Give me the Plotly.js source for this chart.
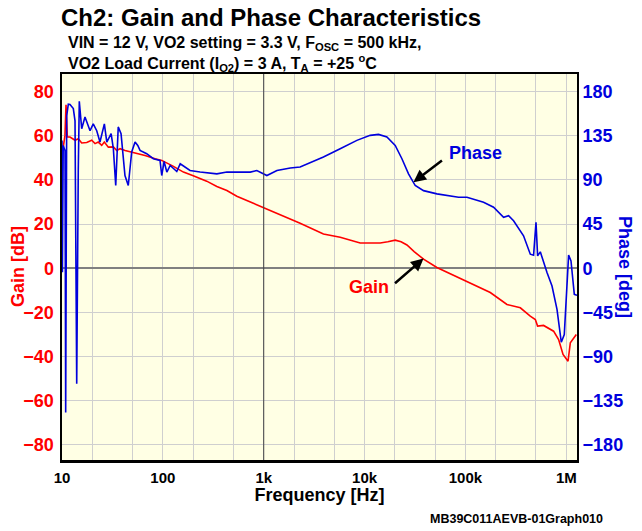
<!DOCTYPE html>
<html>
<head>
<meta charset="utf-8">
<script src="https://cdn.plot.ly/plotly-3.0.1.min.js"></script>
<style>html,body{margin:0;padding:0;background:#fff;}#chart{width:642px;height:531px;}</style>
</head>
<body>
<div id="chart"></div>
<script>
// Gain trace (red)
const gainFreq = [10, 10.7, 10.96, 11.29, 12.0, 13.46, 14.51, 15.68, 17.58, 19.71, 21.26, 22.9, 24.77, 26.28, 28.8, 32.3, 34.9, 37.6, 42.2, 49.1, 57.1, 66.6, 83.7, 97.5, 126, 160, 200, 272, 343, 431, 541, 700, 1000, 1567, 2295, 3908, 5730, 9040, 14280, 17000, 20120, 23000, 26300, 31000, 38400, 52100, 85400, 103500, 176300, 258000, 350000, 439000, 493000, 519000, 595000, 748000, 839000, 928000, 1040000, 1096000, 1257000];
const gainDb = [51, 60, 74, 59.4, 59.4, 57.9, 58.6, 56.7, 56.9, 57.9, 56.4, 57.1, 55.6, 57.1, 54.8, 54.9, 53.3, 54.1, 53.3, 52.6, 51.8, 51.0, 49.5, 48.8, 46.2, 43.5, 41.9, 39.4, 37.0, 35.2, 32.6, 30.4, 27.3, 23.8, 20.3, 15.5, 14.0, 11.4, 11.4, 12.0, 12.7, 12.0, 10.5, 7.5, 4.1, 0.3, -4.2, -5.8, -11, -16.4, -17.9, -21.7, -23.2, -26.2, -25.9, -28.5, -32.3, -39, -42.1, -33.8, -30];

// Phase trace (blue)
const phaseFreq = [10.0, 10.09, 10.28, 10.71, 10.88, 11.13, 11.55, 12.0, 12.95, 13.46, 13.99, 14.19, 14.5, 14.84, 15.68, 16.9, 18.2, 18.97, 20.4, 22.1, 23.8, 26.3, 27.8, 30.7, 32.3, 34.1, 36.1, 38.5, 42.1, 45.4, 49.1, 53.0, 56.4, 59.4, 69.1, 80.5, 93.7, 97.5, 102.9, 109.5, 118.2, 137.4, 148.6, 172.9, 186, 234, 315, 343, 431, 541, 735, 855, 1075, 1352, 1834, 2295, 3908, 5728, 8386, 11367, 13740, 16640, 20120, 23450, 27260, 31770, 38400, 52150, 85410, 103500, 151200, 190000, 238800, 267700, 300000, 376700, 439500, 473900, 500600, 519300, 552300, 643500, 721500, 808500, 891900, 955000, 1054000, 1113000, 1200000, 1277000];
const phaseDeg = [130, -4, 125, 120, -147, 155, 167, 166.7, 162.6, 150, -117.6, -20, 100, 170, 142, 154, 145.5, 140, 147, 140, 128.5, 147, 128.5, 137, 121.7, 84.2, 143.9, 137, 94.4, 84.2, 118.3, 128.5, 125, 120, 116.6, 111.5, 109.7, 94.4, 108.7, 97.9, 104.6, 98.5, 106.4, 101.2, 99.5, 97.9, 96.8, 96.1, 97.9, 97.9, 97.9, 99.5, 94.4, 99.5, 102, 103, 113.2, 121.7, 130.2, 135.3, 136.3, 133.7, 125, 111.5, 96.1, 84.2, 79, 75.7, 72.3, 72.3, 67.2, 62.1, 51.8, 53.5, 48.4, 33, 14.3, 13.3, 46.7, 12.6, 16.7, -4.4, -18.1, -41.9, -75.4, -67.5, 13.3, 7.5, -26.6, -27.6];

// Axis ticks
const freqTickVals = [10, 20, 50, 100, 200, 500, 1000, 2000, 5000, 10000, 20000, 50000, 100000, 200000, 500000, 1000000];
const freqTickText = ['10', '', '', '100', '', '', '1k', '', '', '10k', '', '', '100k', '', '', '1M'];
const gainTickVals = [-80, -60, -40, -20, 0, 20, 40, 60, 80];
const phaseTickVals = [-180, -135, -90, -45, 0, 45, 90, 135, 180];

const FONT = 'Arial, "Liberation Sans", Helvetica, sans-serif';
const RED = '#ff0000';
const BLUE = '#0000dd';
const gainRange = [-86.8, 87.9];
const phaseRange = [gainRange[0] * 2.25, gainRange[1] * 2.25];
const xRange = [1, 6.106];

const traces = [
  {x: gainFreq, y: gainDb, type: 'scatter', mode: 'lines', name: 'Gain',
   line: {color: RED, width: 1.6}, yaxis: 'y'},
  {x: phaseFreq, y: phaseDeg, type: 'scatter', mode: 'lines', name: 'Phase',
   line: {color: BLUE, width: 1.6}, yaxis: 'y2'}
];

const PH = 531 - 74 - 71;
const PW = 642 - 62 - 65;

const layout = {
  width: 642, height: 531,
  margin: {l: 62, r: 65, t: 74, b: 71},
  paper_bgcolor: '#ffffff',
  plot_bgcolor: '#ffffe4',
  showlegend: false,
  font: {family: FONT},
  title: {
    text: 'Ch2: Gain and Phase Characteristics',
    font: {family: FONT, size: 24, weight: 'bold', color: '#000'},
    xref: 'container', x: 61/642, xanchor: 'left',
    yref: 'container', y: 1 - 18/531, yanchor: 'middle'
  },
  xaxis: {
    type: 'log', range: xRange,
    tickvals: freqTickVals, ticktext: freqTickText,
    tickfont: {family: FONT, size: 15, weight: 'bold', color: '#000'},
    showgrid: true, gridcolor: '#cfcfcf', gridwidth: 1,
    showline: true, linecolor: '#000', linewidth: 2.5, mirror: true,
    ticks: '', ticklen: 0, ticklabelstandoff: 2,
    title: {text: 'Frequency [Hz]', font: {family: FONT, size: 18, weight: 'bold', color: '#000'}, standoff: 0},
    zeroline: false
  },
  yaxis: {
    range: gainRange, tickvals: gainTickVals,
    tickfont: {family: FONT, size: 18, weight: 'bold', color: RED},
    showgrid: true, gridcolor: '#cfcfcf', gridwidth: 1,
    zeroline: true, zerolinecolor: '#808080', zerolinewidth: 2,
    showline: true, linecolor: '#000', linewidth: 2.5,
    ticks: '', ticklen: 0, ticklabelstandoff: 2
  },
  yaxis2: {
    range: phaseRange, tickvals: phaseTickVals,
    overlaying: 'y', side: 'right',
    tickfont: {family: FONT, size: 18, weight: 'bold', color: BLUE},
    showgrid: false, zeroline: false,
    showline: true, linecolor: '#000', linewidth: 2,
    ticks: '', ticklen: 0, ticklabelstandoff: 0
  },
  shapes: [
    {type: 'line', xref: 'x', yref: 'paper', x0: 1000, x1: 1000, y0: 0, y1: 1,
     line: {color: '#404040', width: 1}}
  ],
  annotations: [
    {xref: 'paper', yref: 'paper', x: 4/PW, y: 1 + (74-44)/PH, xanchor: 'left', yanchor: 'middle',
     text: 'VIN = 12 V, VO2 setting = 3.3 V, F<sub>OSC</sub> = 500 kHz,', showarrow: false,
     font: {family: FONT, size: 16, weight: 'bold', color: '#000'}},
    {xref: 'paper', yref: 'paper', x: 4/PW, y: 1 + (74-63)/PH, xanchor: 'left', yanchor: 'middle',
     text: 'VO2 Load Current (I<sub>O2</sub>) = 3 A, T<sub>A</sub> = +25 <sup>o</sup>C', showarrow: false,
     font: {family: FONT, size: 16, weight: 'bold', color: '#000'}},
    {xref: 'paper', yref: 'paper', x: -44/PW, y: 0.5, xanchor: 'center', yanchor: 'middle',
     text: 'Gain [dB]', textangle: -90, showarrow: false,
     font: {family: FONT, size: 18, weight: 'bold', color: RED}},
    {xref: 'paper', yref: 'paper', x: 1 + 48/PW, y: 0.5, xanchor: 'center', yanchor: 'middle',
     text: 'Phase [deg]', textangle: 90, showarrow: false,
     font: {family: FONT, size: 18, weight: 'bold', color: BLUE}},
    {xref: 'paper', yref: 'paper', x: (516-62)/PW, y: -(519-460)/PH, xanchor: 'center', yanchor: 'middle',
     text: 'MB39C011AEVB-01Graph010', showarrow: false,
     font: {family: FONT, size: 12.5, weight: 'bold', color: '#000'}},
    // Phase label + arrow
    {xref: 'x', yref: 'y', x: Math.log10(65900), y: 52.3, xanchor: 'left', yanchor: 'middle',
     text: 'Phase', showarrow: false,
     font: {family: FONT, size: 18, weight: 'bold', color: BLUE}},
    {xref: 'x', yref: 'y', x: Math.log10(30500), y: 38.9, text: '', showarrow: true,
     ax: 30, ay: -23, arrowhead: 2, arrowsize: 1, arrowwidth: 2.5, arrowcolor: '#000'},
    // Gain label + arrow
    {xref: 'x', yref: 'y', x: Math.log10(10980), y: -8.6, xanchor: 'center', yanchor: 'middle',
     text: 'Gain', showarrow: false,
     font: {family: FONT, size: 18, weight: 'bold', color: RED}},
    {xref: 'x', yref: 'y', x: Math.log10(38400), y: 4.4, text: '', showarrow: true,
     ax: -30, ay: 26, arrowhead: 2, arrowsize: 1, arrowwidth: 2.5, arrowcolor: '#000'}
  ]
};

Plotly.newPlot('chart', traces, layout, {displayModeBar: false, staticPlot: true});
</script>
</body>
</html>
